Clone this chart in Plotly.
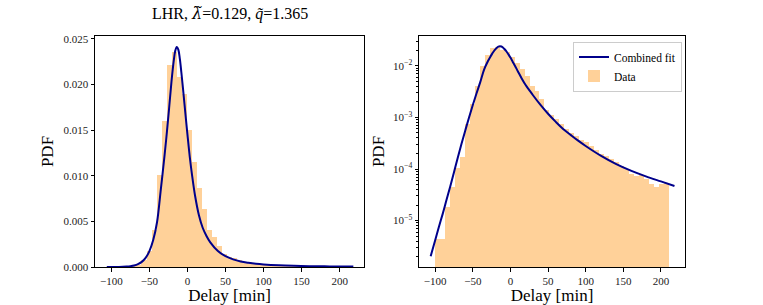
import numpy as np
import plotly.graph_objects as go

# ---------------- data ----------------
bin_start = -100.0
bin_width = 6.6
hist_density = [
    4.4e-6, 4.4e-6, 1.85e-5, 4.5e-5, 1.05e-4, 1.7e-4, 7.5e-4, 1.8e-3, 4.0e-3, 1.01e-2,
    1.60e-2, 2.21e-2, 2.36e-2, 2.08e-2, 1.90e-2, 1.50e-2, 1.15e-2, 8.6e-3, 6.4e-3, 4.05e-3,
    3.3e-3, 2.3e-3, 1.41e-3, 1.12e-3, 9.5e-4, 7.6e-4, 6.0e-4, 5.0e-4, 4.4e-4, 3.7e-4,
    3.3e-4, 2.75e-4, 2.35e-4, 2.0e-4, 1.82e-4, 1.58e-4, 1.35e-4, 1.17e-4, 1.0e-4, 7.9e-5,
    7.2e-5, 7.6e-5, 6.3e-5, 5.2e-5, 4.4e-5, 5.2e-5, 5.4e-5,
]

fit_delay = [-106, -100, -95, -90, -85, -80, -75, -70, -65, -60, -55, -50, -45, -40, -35,
             -30, -27, -24, -21, -18, -16, -14, -12, -10, -8, -5, -2, 0, 3, 6, 10, 15, 20,
             25, 30, 40, 50, 60, 70, 80, 90, 100, 120, 140, 160, 180, 200, 218]
fit_pdf = [2.04e-6, 4.17e-6, 7.6e-6, 1.35e-5, 2.5e-5, 4.6e-5, 8.7e-5, 1.66e-4, 3.1e-4, 5.6e-4,
           1.0e-3, 1.74e-3, 2.95e-3, 4.9e-3, 8.5e-3,
           0.0123, 0.0148, 0.0175, 0.0203, 0.0226, 0.0237, 0.0241, 0.0238, 0.0228, 0.0213,
           0.0188, 0.0162, 0.0145, 0.0121, 0.0101, 0.0078, 0.0057, 0.0043,
           0.0034, 0.0027, 0.00175, 0.00118, 0.00083, 0.00060, 0.00046, 0.000355, 0.00028,
           0.000182, 0.000126, 9.3e-5, 7.2e-5, 5.75e-5, 4.7e-5]

x_ticks = [-100, -50, 0, 50, 100, 150, 200]
lin_ticks = [0.0, 0.005, 0.010, 0.015, 0.020, 0.025]
log_ticks = [1e-5, 1e-4, 1e-3, 1e-2]
log_tick_text = ["10<sup>−5</sup>", "10<sup>−4</sup>", "10<sup>−3</sup>", "10<sup>−2</sup>"]

title_text = ("LHR, <span style=\"font-family:'DejaVu Serif'\"><i>λ̃</i></span>=0.129, "
              "<i>q̃</i>=1.365")

# ---------------- figure ----------------
W, H = 763, 305
FONT = "Liberation Serif"
bar_color = "rgba(255,140,0,0.4)"
line_color = "#00008B"

# plot area in pixels
L, R, T, B = 95, 685, 36, 267
PW, PH = R - L, B - T

def fx(px):
    return (px - L) / PW

def fy(py):
    return (B - py) / PH

centers = bin_start + bin_width * (np.arange(len(hist_density)) + 0.5)

fig = go.Figure()
# left, linear
fig.add_trace(go.Bar(x=centers, y=hist_density, width=bin_width, marker=dict(color=bar_color, line=dict(width=0)),
                     showlegend=False, xaxis="x", yaxis="y"))
fig.add_trace(go.Scatter(x=fit_delay, y=fit_pdf, mode="lines", line=dict(color=line_color, width=2, shape="spline"),
                         showlegend=False, xaxis="x", yaxis="y"))
# right, log
fig.add_trace(go.Scatter(x=fit_delay, y=fit_pdf, mode="lines", name="Combined fit",
                         line=dict(color=line_color, width=2, shape="spline"), xaxis="x2", yaxis="y2"))
fig.add_trace(go.Bar(x=centers, y=hist_density, width=bin_width, name="Data",
                     marker=dict(color=bar_color, line=dict(width=0)), xaxis="x2", yaxis="y2"))

xrange_ = [-121.5, 232]

axis_common = dict(showline=True, linecolor="black", linewidth=1, mirror=True, ticks="outside",
                   ticklen=3.5, tickwidth=0.8, tickcolor="black", showgrid=False, zeroline=False,
                   automargin=False, tickfont=dict(family=FONT, size=11, color="#222"))

title_font = dict(family=FONT, size=17, color="black")
minor_vals = [m * 10.0 ** e for e in range(-6, 0) for m in range(2, 10)]

fig.update_layout(
    width=W, height=H,
    margin=dict(l=L, r=W - R, t=T, b=H - B),
    paper_bgcolor="white", plot_bgcolor="white",
    bargap=0,
    font=dict(family=FONT, color="black"),
    xaxis=dict(domain=[0, fx(364)], anchor="y", range=xrange_, tickvals=x_ticks,
               title=dict(text="Delay [min]", font=title_font, standoff=4), **axis_common),
    yaxis=dict(domain=[0, 1], anchor="x", range=[0, 0.0253], tickvals=lin_ticks, tickformat=".3f",
               title=dict(text="PDF", font=title_font, standoff=5), **axis_common),
    xaxis2=dict(domain=[fx(419), 1], anchor="y2", range=xrange_, tickvals=x_ticks,
                title=dict(text="Delay [min]", font=title_font, standoff=4), **axis_common),
    yaxis2=dict(domain=[0, 1], anchor="x2", type="log", range=[-5.9, -1.42], tickvals=log_ticks,
                ticktext=log_tick_text,
                minor=dict(tickvals=minor_vals, ticks="outside", ticklen=2, tickwidth=0.6, tickcolor="black"),
                title=dict(text="PDF", font=title_font, standoff=4), **axis_common),
    legend=dict(x=fx(682), y=fy(41.5), xanchor="right", yanchor="top",
                bgcolor="rgba(255,255,255,0.8)", bordercolor="#cccccc", borderwidth=1,
                font=dict(family=FONT, size=11.5), traceorder="normal",
                itemwidth=30, tracegroupgap=0),
    annotations=[dict(text=title_text, x=fx(229.5), y=fy(14), xref="paper", yref="paper",
                      xanchor="center", yanchor="middle", showarrow=False,
                      font=dict(family=FONT, size=16, color="black"))],
)

fig.write_html("out.html", config={"displayModeBar": False},
               post_script="document.body.style.margin='0';document.body.style.padding='0';")
